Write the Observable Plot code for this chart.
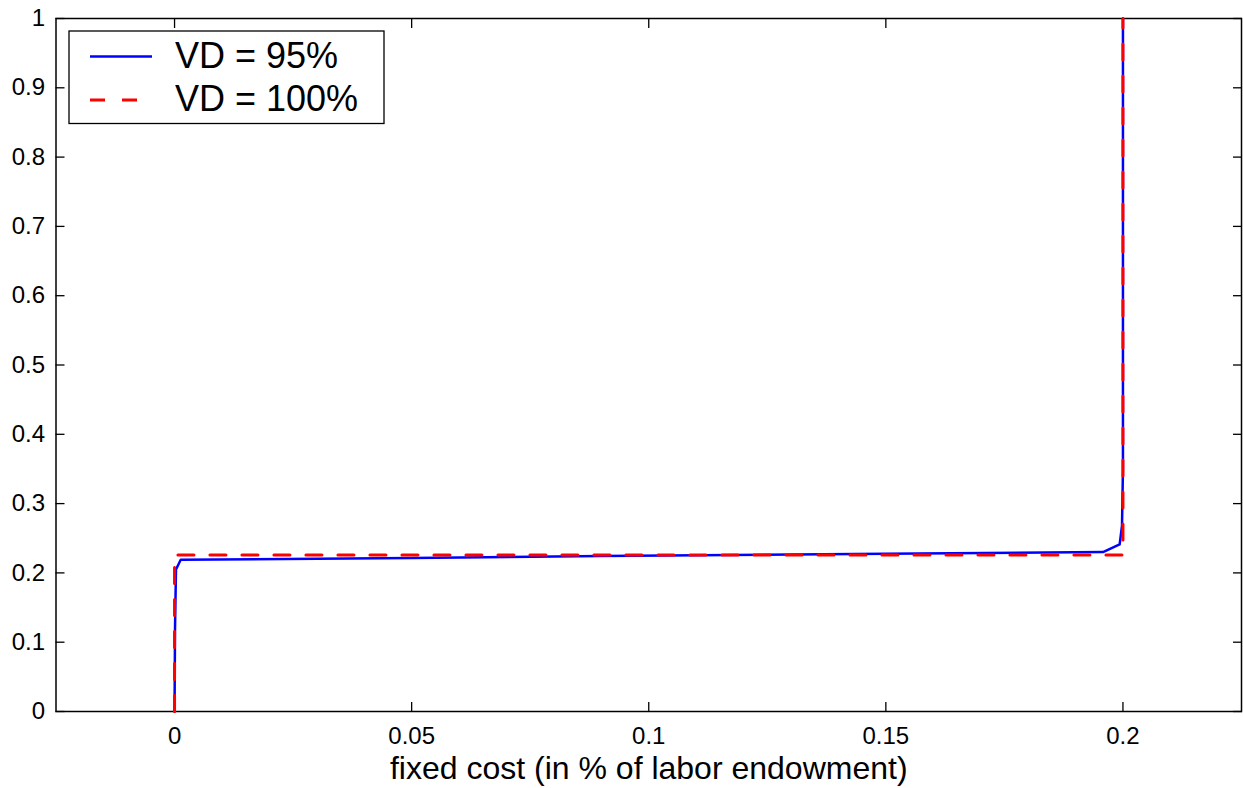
<!DOCTYPE html>
<html>
<head>
<meta charset="utf-8">
<script src="https://cdn.jsdelivr.net/npm/d3@7"></script>
<script src="https://cdn.jsdelivr.net/npm/@observablehq/plot@0.6"></script>
<style>
  html, body { margin: 0; padding: 0; background: #fff; }
  #chart { position: relative; width: 1243px; height: 788px; }
  svg { font-family: "Liberation Sans", Arial, Helvetica, sans-serif; }
</style>
</head>
<body>
<div id="chart"></div>
<script>
// ---- data ----
const seriesNames = ["VD = 95%", "VD = 100%"];
const seriesColors = ["#0000ff", "#ff0000"];
const vd95X = [0, 0.0001, 0.0003, 0.0013, 0.05, 0.09, 0.15, 0.1958, 0.1993, 0.1998, 0.2, 0.2];
const vd95Y = [0, 0.12, 0.205, 0.219, 0.2215, 0.2245, 0.2275, 0.230, 0.241, 0.268, 0.35, 1];
const vd100X = [0, 0, 0.2, 0.2];
const vd100Y = [0, 0.226, 0.226, 1];
const xTicks = [0, 0.05, 0.1, 0.15, 0.2];
const xTickLabels = ["0", "0.05", "0.1", "0.15", "0.2"];
const yTicks = [0, 0.1, 0.2, 0.3, 0.4, 0.5, 0.6, 0.7, 0.8, 0.9, 1];
const yTickLabels = ["0", "0.1", "0.2", "0.3", "0.4", "0.5", "0.6", "0.7", "0.8", "0.9", "1"];
const xLabel = "fixed cost (in % of labor endowment)";

const vd95 = vd95X.map((x, i) => ({x, y: vd95Y[i]}));
const vd100 = vd100X.map((x, i) => ({x, y: vd100Y[i]}));
const xFmt = d => xTickLabels[xTicks.indexOf(d)];
const yFmt = d => yTickLabels[yTicks.indexOf(d)];
const FONT = "'Liberation Sans', Arial, Helvetica, sans-serif";

const plot = Plot.plot({
  width: 1243,
  height: 788,
  marginLeft: 55.5,
  marginRight: 2,
  marginTop: 18,
  marginBottom: 77,
  style: {fontSize: "24px", fontFamily: FONT, color: "#000", background: "#fff"},
  x: {domain: [-0.025, 0.225]},
  y: {domain: [0, 1]},
  marks: [
    Plot.frame({stroke: "#000", strokeWidth: 1.5}),
    Plot.axisX(xTicks, {anchor: "bottom", tickSize: -9, tickPadding: 24, tickFormat: xFmt, label: null, fontSize: 24, strokeWidth: 1.3}),
    Plot.axisX(xTicks, {anchor: "top", tickSize: -9, tickFormat: () => "", label: null, strokeWidth: 1.3}),
    Plot.axisY(yTicks, {anchor: "left", tickSize: -9, tickPadding: 20, tickFormat: yFmt, label: null, fontSize: 24, strokeWidth: 1.3}),
    Plot.axisY(yTicks, {anchor: "right", tickSize: -9, tickFormat: () => "", label: null, strokeWidth: 1.3}),
    Plot.line(vd95, {x: "x", y: "y", stroke: seriesColors[0], strokeWidth: 2.5}),
    Plot.line(vd100, {x: "x", y: "y", stroke: seriesColors[1], strokeWidth: 3, strokeDasharray: "16,16"}),
    Plot.text([xLabel], {frameAnchor: "bottom", dy: 67, text: d => d, fontSize: 32, lineAnchor: "bottom", fill: "#000"})
  ]
});
document.getElementById("chart").appendChild(plot);

// legend inside the plot area (top-left)
const svg = d3.select(plot);
const lg = svg.append("g").attr("class", "legend");
lg.append("rect").attr("x", 69).attr("y", 31).attr("width", 315).attr("height", 92.5)
  .attr("fill", "#fff").attr("stroke", "#000").attr("stroke-width", 1.3);
const legendLineY = [56.5, 100];
const legendTextY = [68, 111];
seriesNames.forEach((name, i) => {
  lg.append("line").attr("x1", 90).attr("x2", 152).attr("y1", legendLineY[i]).attr("y2", legendLineY[i])
    .attr("stroke", seriesColors[i]).attr("stroke-width", i ? 3 : 2.5)
    .attr("stroke-dasharray", i ? "15,17" : null);
  lg.append("text").attr("x", 175).attr("y", legendTextY[i]).text(name)
    .attr("font-size", 36).attr("fill", "#000").attr("text-anchor", "start")
    .attr("font-family", FONT);
});
</script>
</body>
</html>
